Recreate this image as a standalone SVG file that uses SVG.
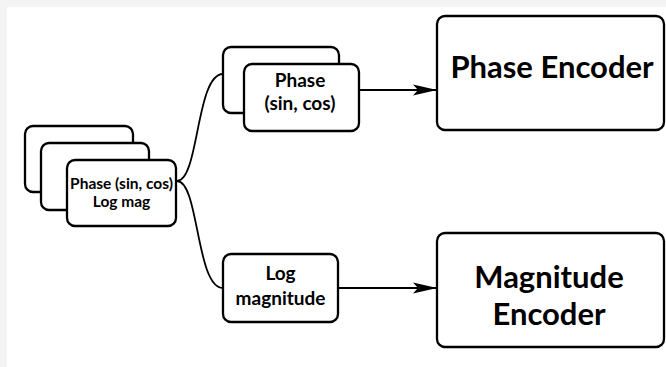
<svg xmlns="http://www.w3.org/2000/svg" width="666" height="367" viewBox="0 0 666 367">
  <style>
    .box { fill: #ffffff; stroke: #000000; stroke-width: 2.3; }
    .wire { fill: none; stroke: #000000; stroke-width: 1.8; }
    .lbl { font-family: Lato, "Open Sans", "Liberation Sans", sans-serif; font-weight: 700; fill: #000000; text-anchor: middle; }
    .small { font-size: 15.5px; }
    .mid { font-size: 19px; }
    .big { font-size: 31px; }
  </style>
  <defs>
    <marker id="arrow" viewBox="0 0 24 12" refX="23" refY="6" markerWidth="24" markerHeight="12" markerUnits="userSpaceOnUse" orient="auto">
      <path d="M0,0.5 L24,6 L0,11.5 L5,6 Z" fill="#000000"/>
    </marker>
  </defs>

  <!-- page background with light margin -->
  <rect x="0" y="0" width="666" height="367" fill="#f4f4f4"/>
  <rect x="7" y="7" width="659" height="360" fill="#ffffff"/>

  <!-- connectors -->
  <g id="connectors">
    <path class="wire" d="M177,181 C199,181 196,74 223,74"/>
    <path class="wire" d="M177,181 C199,181 196,288 223,288"/>
    <line class="wire" x1="359" y1="90" x2="436" y2="90" marker-end="url(#arrow)"/>
    <line class="wire" x1="338" y1="288" x2="436" y2="288" marker-end="url(#arrow)"/>
  </g>

  <!-- stacked input frames -->
  <g id="input-stack">
    <rect class="box" x="25" y="126" width="108" height="66" rx="8"/>
    <rect class="box" x="41" y="143" width="108" height="67" rx="8"/>
    <rect class="box" x="67" y="160" width="109" height="66" rx="8"/>
    <text class="lbl small" x="121.5" y="189">Phase (sin, cos)</text>
    <text class="lbl small" x="121.5" y="207">Log mag</text>
  </g>

  <!-- phase branch input -->
  <g id="phase-input">
    <rect class="box" x="223" y="47" width="116" height="66" rx="8"/>
    <rect class="box" x="244" y="64" width="115" height="67" rx="8"/>
    <text class="lbl mid" x="300" y="87">Phase</text>
    <text class="lbl mid" x="300" y="110">(sin, cos)</text>
  </g>

  <!-- magnitude branch input -->
  <g id="magnitude-input">
    <rect class="box" x="223" y="254" width="115" height="68" rx="8"/>
    <text class="lbl mid" x="280.5" y="280">Log</text>
    <text class="lbl mid" x="280.5" y="305">magnitude</text>
  </g>

  <!-- encoders -->
  <g id="phase-encoder">
    <rect class="box" x="437" y="16" width="227" height="114" rx="8"/>
    <text class="lbl big" x="552" y="78">Phase Encoder</text>
  </g>

  <g id="magnitude-encoder">
    <rect class="box" x="437" y="233" width="227" height="114" rx="8"/>
    <text class="lbl big" x="549" y="288" font-size="30">Magnitude</text>
    <text class="lbl big" x="549" y="325" font-size="30">Encoder</text>
  </g>
</svg>
